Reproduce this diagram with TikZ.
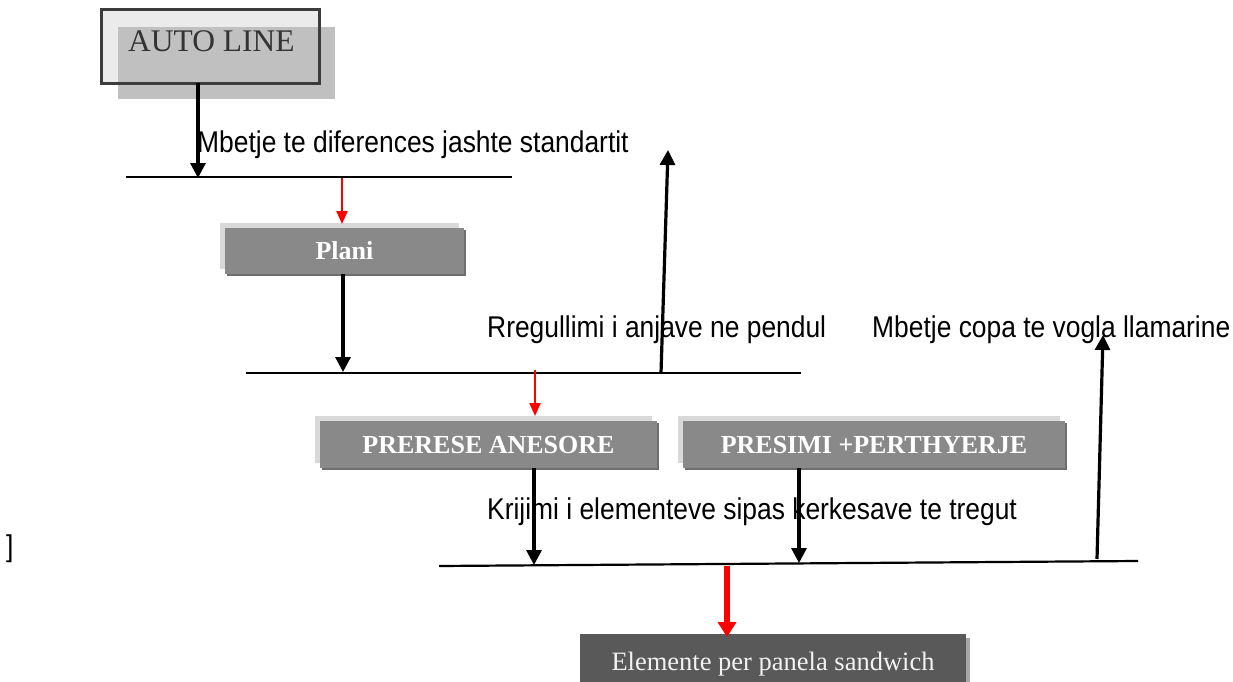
\documentclass[tikz,border=0pt]{standalone}
\usepackage{fontspec}
\setmainfont{Liberation Serif}
\setsansfont[FakeStretch=0.88]{Liberation Sans}
\usetikzlibrary{arrows.meta,calc,shadows}
\definecolor{autobg}{HTML}{EBEBEB}
\definecolor{autoshade}{HTML}{C0C0C0}
\definecolor{framecol}{HTML}{3C3C3C}
\definecolor{boxfill}{HTML}{898989}
\definecolor{boxback}{HTML}{D9D9D9}
\definecolor{boxedge}{HTML}{6E6E6E}
\definecolor{darkbox}{HTML}{595959}
\definecolor{darkedge}{HTML}{A6A6A6}
\begin{document}
\begin{tikzpicture}[x=1pt,y=-1pt,
  hline/.style={line width=2.2pt},
  blackarrow/.style={line width=3.2pt,-{Triangle[width=15pt,length=15pt]}},
  redarrow/.style={red,line width=2.2pt,-{Triangle[width=11pt,length=13pt]}},
  bigred/.style={red,line width=5.5pt,-{Triangle[width=18pt,length=15pt]}},
  lbl/.style={font=\sffamily\fontsize{30}{36}\selectfont, anchor=base west, inner sep=0pt},
  graybox/.style={fill=boxfill, text=white, font=\bfseries\fontsize{26}{30}\selectfont,
    inner sep=0pt, text height=17.5pt, text depth=0pt,
    general shadow={fill=boxback, shadow xshift=-5pt, shadow yshift=5pt},
    general shadow={fill=boxedge, shadow xshift=2pt, shadow yshift=-2pt}},
  darkboxst/.style={fill=darkbox, text=white!95!black, font=\fontsize{26.5}{30}\selectfont,
    inner sep=0pt, text height=17.5pt, text depth=0pt,
    general shadow={fill=darkedge, shadow xshift=4pt, shadow yshift=-4pt}}]
\clip (0,0) rectangle (1233,682);
\fill[white] (0,0) rectangle (1233,682);

% AUTO LINE box
\node[fill=autobg, minimum width=217pt, minimum height=73pt, inner sep=0pt] (autoframe) at (210.5,46.5) {};
\fill[autoshade] ($(autoframe.north west)+(16,17)$) rectangle ($(autoframe.south east)+(16,16)$);
\draw[framecol, line width=2.8pt] (autoframe.north west) rectangle (autoframe.south east);
\node[font=\fontsize{31.5}{36}\selectfont, text=black!80, anchor=base west, inner sep=0pt] (autotext) at (128,52) {AUTO LINE};

% boxes
\node[graybox, minimum width=239pt, minimum height=46pt] (plani) at (344.5,251) {Plani};
\node[graybox, minimum width=337pt, minimum height=47pt] (prerese) at (488.5,444.5) {PRERESE ANESORE};
\node[graybox, minimum width=382pt, minimum height=47pt] (presimi) at (874,444.5) {PRESIMI +PERTHYERJE};
\node[darkboxst, minimum width=386pt, minimum height=56pt] (elem) at (773,662) {Elemente per panela sandwich};

% labels
\node[lbl] (t1) at (197,152) {Mbetje te diferences jashte standartit};
\node[lbl] (t2) at (487,337) {Rregullimi i anjave ne pendul};
\node[lbl] (t3) at (872,337) {Mbetje copa te vogla llamarine};
\node[lbl] (t4) at (487,519) {Krijimi i elementeve sipas kerkesave te tregut};
\node[lbl] (br) at (6,556) {]};

% coordinates
\coordinate (l1s) at (126,177);
\coordinate (l1e) at (512,177);
\coordinate (l1a) at (198,178);
\coordinate (r1s) at (342,178);
\coordinate (r1e) at (342,224);
\coordinate (l2s) at (246,373);
\coordinate (l2e) at (801,373);
\coordinate (l2a) at (343,372);
\coordinate (r2s) at (535,370);
\coordinate (r2e) at (535,416);
\coordinate (u1s) at (661,373);
\coordinate (u1e) at (668,150);
\coordinate (l3s) at (439,566);
\coordinate (l3e) at (1138,561);
\coordinate (l3a) at (534,565);
\coordinate (l3b) at (799,563);
\coordinate (u2s) at (1097,559);
\coordinate (u2e) at (1103,335);
\coordinate (r3s) at (727,566);
\coordinate (r3e) at (727,637);

% horizontal lines
\draw[hline] (l1s) -- (l1e);
\draw[hline] (l2s) -- (l2e);
\draw[hline] (l3s) -- (l3e);

% arrows
\draw[blackarrow] (autoframe.south -| l1a) -- (l1a);
\draw[redarrow] (r1s) -- (r1e);
\draw[blackarrow] (plani.south -| l2a) -- (l2a);
\draw[redarrow] (r2s) -- (r2e);
\draw[blackarrow] (u1s) -- (u1e);
\draw[blackarrow] (prerese.south -| l3a) -- (l3a);
\draw[blackarrow] (presimi.south -| l3b) -- (l3b);
\draw[blackarrow] (u2s) -- (u2e);
\draw[bigred] (r3s) -- (r3e);
\end{tikzpicture}
\end{document}
